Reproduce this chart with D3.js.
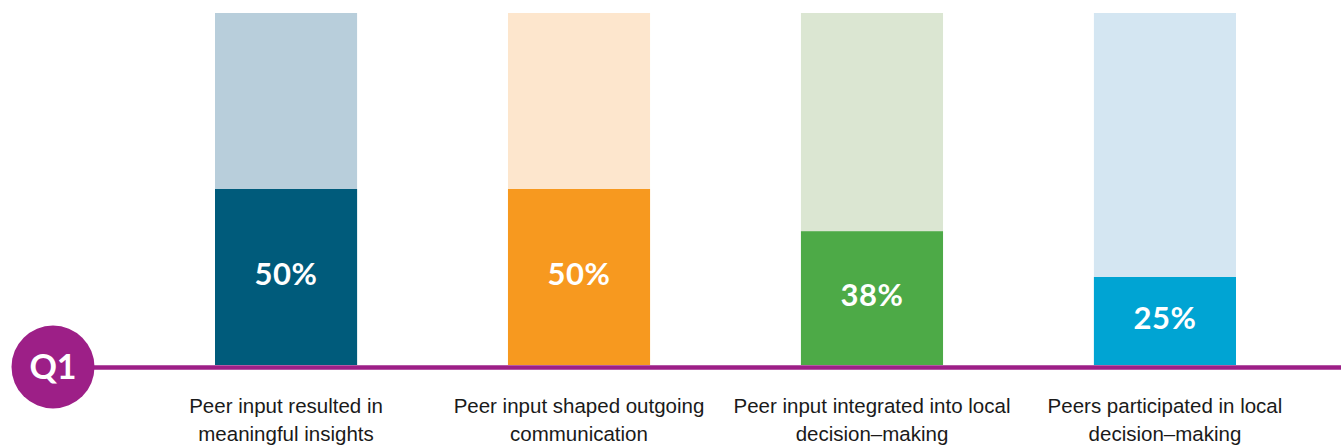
<!DOCTYPE html>
<html>
<head>
<meta charset="utf-8">
<script src="https://cdn.jsdelivr.net/npm/d3@7"></script>
<style>
  body { margin: 0; background: #fff; }
  svg { display: block; }
</style>
</head>
<body>
<div id="chart"></div>
<script>
const categories = [
  ["Peer input resulted in", "meaningful insights"],
  ["Peer input shaped outgoing", "communication"],
  ["Peer input integrated into local", "decision\u2013making"],
  ["Peers participated in local", "decision\u2013making"]
];
const values = [50, 50, 38, 25];
const darkColors = ["#005b7b", "#f7991f", "#4daa47", "#00a4d3"];
const lightColors = ["#b8cedb", "#fde6cd", "#dbe6d2", "#d4e6f2"];
const questionLabel = "Q1";

const width = 1341, height = 448;
const baseY = 365, topY = 13;

const svg = d3.select("#chart")
  .append("svg")
    .attr("width", width)
    .attr("height", height);

const keys = categories.map((d, i) => i);

const x = d3.scaleBand()
  .domain(keys)
  .range([215, 1236])
  .paddingInner(0.515)
  .paddingOuter(0);

const y = d3.scaleLinear()
  .domain([0, 100])
  .range([baseY, topY]);

// background (100%) bars
svg.selectAll(".bg")
  .data(values)
  .join("rect")
    .attr("x", (d, i) => x(i))
    .attr("y", y(100))
    .attr("width", x.bandwidth())
    .attr("height", y(0) - y(100))
    .attr("fill", (d, i) => lightColors[i]);

// value bars
svg.selectAll(".val")
  .data(values)
  .join("rect")
    .attr("x", (d, i) => x(i))
    .attr("y", d => y(d))
    .attr("width", x.bandwidth())
    .attr("height", d => y(0) - y(d))
    .attr("fill", (d, i) => darkColors[i]);

// value labels
svg.selectAll(".pct")
  .data(values)
  .join("text")
    .attr("x", (d, i) => x(i) + x.bandwidth() / 2)
    .attr("y", d => (y(d) + y(0)) / 2 + 8)
    .attr("text-anchor", "middle")
    .attr("fill", "#fff")
    .style("font-family", "Lato, 'Open Sans', sans-serif")
    .style("font-weight", 700)
    .style("font-size", "31px")
    .style("letter-spacing", "0.5px")
    .text(d => d + "%");

// baseline
svg.append("line")
  .attr("x1", 50)
  .attr("x2", width)
  .attr("y1", 367.5)
  .attr("y2", 367.5)
  .attr("stroke", "#9d1f87")
  .attr("stroke-width", 4.5);

// Q1 badge
svg.append("circle")
  .attr("cx", 53)
  .attr("cy", 367)
  .attr("r", 41.5)
  .attr("fill", "#9d1f87");

svg.append("text")
  .attr("x", 53)
  .attr("y", 379)
  .attr("text-anchor", "middle")
  .attr("fill", "#fff")
  .style("font-family", "Lato, sans-serif")
  .style("font-weight", 700)
  .style("font-size", "34px")
  .text(questionLabel);

// category labels
const labels = svg.selectAll(".cat")
  .data(categories)
  .join("text")
    .attr("text-anchor", "middle")
    .attr("fill", "#1a1a1a")
    .style("font-family", "'Liberation Sans Narrow', 'Arial Narrow', sans-serif")
    .style("font-size", "20.5px");

labels.selectAll("tspan")
  .data((d, i) => d.map(t => ({t, i})))
  .join("tspan")
    .attr("x", d => x(d.i) + x.bandwidth() / 2)
    .attr("y", (d, j) => 413 + j * 28)
    .text(d => d.t);
</script>
</body>
</html>
